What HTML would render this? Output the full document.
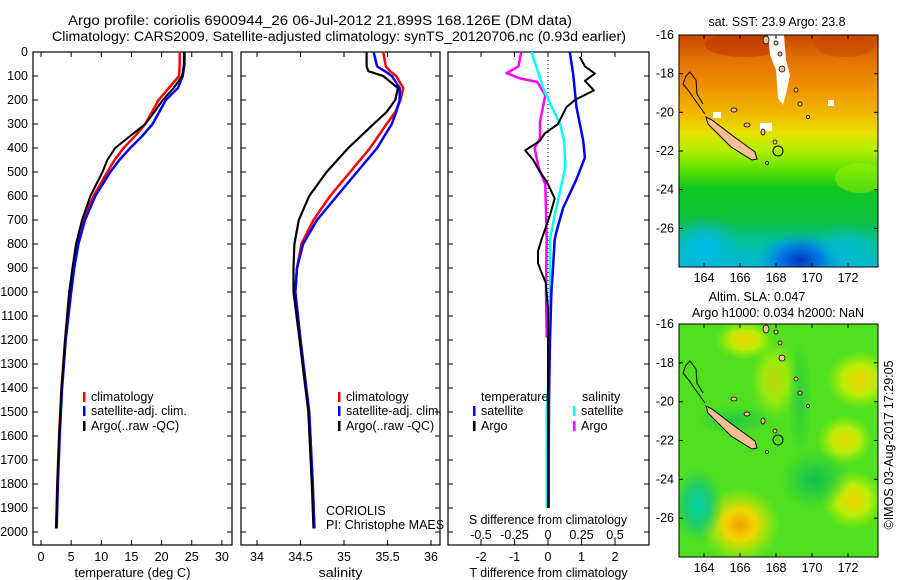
<!DOCTYPE html>
<html><head><meta charset="utf-8"><style>
html,body{margin:0;padding:0;background:#fff;}
svg{display:block;font-family:"Liberation Sans",sans-serif;font-size:12.5px;}
</style></head><body>
<svg id="fig" width="900" height="580" viewBox="0 0 900 580" xmlns="http://www.w3.org/2000/svg">
<defs>
<linearGradient id="sstg" x1="0" y1="0" x2="0" y2="1">
<stop offset="0" stop-color="#c84800"/><stop offset="0.1" stop-color="#e07000"/><stop offset="0.22" stop-color="#f09000"/><stop offset="0.34" stop-color="#f0b800"/><stop offset="0.42" stop-color="#e8e000"/><stop offset="0.5" stop-color="#b0f000"/><stop offset="0.58" stop-color="#60e000"/><stop offset="0.66" stop-color="#10c820"/><stop offset="0.8" stop-color="#10c040"/><stop offset="0.9" stop-color="#00c0a0"/><stop offset="1" stop-color="#00b8d8"/>
</linearGradient>
<radialGradient id="blueblob"><stop offset="0" stop-color="#0030c0"/><stop offset="0.5" stop-color="#0070e8" stop-opacity="0.8"/><stop offset="1" stop-color="#00a0f0" stop-opacity="0"/></radialGradient>
<radialGradient id="cblob"><stop offset="0" stop-color="#00b8f0"/><stop offset="1" stop-color="#00b8f0" stop-opacity="0"/></radialGradient>
<radialGradient id="yblob"><stop offset="0" stop-color="#f0d000"/><stop offset="0.5" stop-color="#d8f000" stop-opacity="0.8"/><stop offset="1" stop-color="#a0f000" stop-opacity="0"/></radialGradient>
<radialGradient id="oblob"><stop offset="0" stop-color="#f0a000"/><stop offset="0.4" stop-color="#f0d800"/><stop offset="1" stop-color="#c0f000" stop-opacity="0"/></radialGradient>
<radialGradient id="tblob"><stop offset="0" stop-color="#00d0b0"/><stop offset="0.5" stop-color="#10c880" stop-opacity="0.8"/><stop offset="1" stop-color="#20c860" stop-opacity="0"/></radialGradient>
<radialGradient id="gblob"><stop offset="0" stop-color="#10c050"/><stop offset="1" stop-color="#10c050" stop-opacity="0"/></radialGradient>
<clipPath id="m1c"><rect x="679" y="35" width="199" height="232"/></clipPath>
<clipPath id="m2c"><rect x="679" y="324" width="199" height="233"/></clipPath>
</defs>
<text x="68" y="25" textLength="504" lengthAdjust="spacingAndGlyphs" font-size="13.5">Argo profile: coriolis 6900944_26 06-Jul-2012 21.899S 168.126E (DM data)</text>
<text x="52" y="41" textLength="574" lengthAdjust="spacingAndGlyphs" font-size="13.5">Climatology: CARS2009. Satellite-adjusted climatology: synTS_20120706.nc (0.93d earlier)</text>
<g id="panels"></g>
<!-- Map 1 SST -->
<g>
<g clip-path="url(#m1c)">
<rect x="679" y="35" width="199" height="232" fill="url(#sstg)"/>
<ellipse cx="800" cy="260" rx="45" ry="28" fill="url(#blueblob)"/>
<ellipse cx="705" cy="245" rx="35" ry="30" fill="url(#cblob)"/>
<ellipse cx="845" cy="245" rx="30" ry="20" fill="url(#cblob)" opacity="0.6"/>
<ellipse cx="745" cy="45" rx="40" ry="12" fill="#b83000" opacity="0.5"/>
<ellipse cx="845" cy="45" rx="30" ry="12" fill="#c04000" opacity="0.4"/>
<ellipse cx="860" cy="178" rx="25" ry="15" fill="#a0f000" opacity="0.5"/>
<path d="M768,35 L784,35 L786,60 L790,75 L787,90 L783,105 L778,98 L776,70 L770,55 Z" fill="#fff"/>
<rect x="713" y="112" width="8" height="6" fill="#fff"/><rect x="760" y="123" width="12" height="8" fill="#fff"/><rect x="828" y="100" width="6" height="6" fill="#fff"/>
<g id="islands1"></g>
</g>
<rect x="679" y="35" width="199" height="232" fill="none" stroke="#000" stroke-width="1"/>
<text x="777" y="26" text-anchor="middle" textLength="137" lengthAdjust="spacingAndGlyphs">sat. SST: 23.9 Argo: 23.8</text>
</g>
<!-- Map 2 SLA -->
<g>
<g clip-path="url(#m2c)">
<rect x="679" y="324" width="199" height="233" fill="#50e020"/>
<ellipse cx="745" cy="340" rx="30" ry="20" fill="url(#yblob)"/>
<ellipse cx="860" cy="380" rx="35" ry="30" fill="url(#yblob)"/>
<ellipse cx="775" cy="380" rx="25" ry="40" fill="url(#yblob)" opacity="0.7"/>
<ellipse cx="845" cy="440" rx="28" ry="25" fill="url(#yblob)"/>
<ellipse cx="853" cy="500" rx="32" ry="30" fill="url(#yblob)"/>
<ellipse cx="740" cy="525" rx="40" ry="38" fill="url(#oblob)"/>
<ellipse cx="698" cy="505" rx="25" ry="38" fill="url(#tblob)"/>
<ellipse cx="815" cy="480" rx="35" ry="30" fill="url(#gblob)"/>
<ellipse cx="735" cy="420" rx="40" ry="15" fill="url(#gblob)" opacity="0.7"/>
<ellipse cx="800" cy="400" rx="12" ry="60" fill="url(#gblob)" opacity="0.6"/>
<g id="islands2"></g>
</g>
<rect x="679" y="324" width="199" height="233" fill="none" stroke="#000" stroke-width="1"/>
<text x="757" y="301" text-anchor="middle">Altim. SLA: 0.047</text>
<text x="778" y="317" text-anchor="middle" textLength="172" lengthAdjust="spacingAndGlyphs">Argo h1000: 0.034 h2000: NaN</text>
</g>
<text transform="translate(893,445) rotate(-90)" text-anchor="middle">©IMOS 03-Aug-2017 17:29:05</text>
<g id="mapaxes"></g>
</svg>
<script>
// ---- data ----
const depthTick = [0,100,200,300,400,500,600,700,800,900,1000,1100,1200,1300,1400,1500,1600,1700,1800,1900,2000];
const tempTick = [0,5,10,15,20,25,30];
const salTick = [34,34.5,35,35.5,36];
const salTickLbl = ["34","34.5","35","35.5","36"];
const tdTick = [-2,-1,0,1,2];
const sdTick = [-0.5,-0.25,0,0.25,0.5];
const sdTickLbl = ["-0.5","-0.25","0","0.25","0.5"];

const tDepth = [0,50,100,150,200,250,300,350,400,450,500,600,700,800,900,1000,1200,1400,1600,1800,1985];
const tClim = [23.0,23.0,22.9,21.2,19.5,18.4,17.3,15.6,13.7,12.2,11.0,8.7,7.0,6.0,5.3,4.7,4.0,3.4,3.0,2.7,2.5];
const tSat = [23.8,23.8,23.5,22.7,20.7,19.6,18.5,16.8,14.8,13.0,11.5,9.0,7.3,6.2,5.5,5.0,4.1,3.5,3.1,2.8,2.6];
const tArgo = [23.7,23.7,23.4,22.0,20.2,18.8,17.3,14.8,12.3,11.0,10.2,8.2,6.8,5.8,5.2,4.7,4.0,3.4,3.0,2.7,2.5];

const sDepth = [0,60,80,100,150,200,250,300,400,500,600,700,800,900,1000,1200,1500,1800,1985];
const sClim = [35.45,35.48,35.53,35.6,35.68,35.65,35.59,35.49,35.3,35.07,34.84,34.65,34.51,34.46,34.44,34.5,34.6,34.64,34.66];
const sSat = [35.34,35.38,35.47,35.55,35.64,35.64,35.6,35.55,35.38,35.15,34.92,34.69,34.53,34.46,34.44,34.5,34.6,34.64,34.66];
const sArgo = [35.26,35.26,35.28,35.45,35.62,35.59,35.49,35.34,35.05,34.8,34.6,34.48,34.43,34.42,34.42,34.49,34.59,34.63,34.65];

const dtSatDepth = [0,90,230,370,440,530,650,740,780,900,1000,1200,1450,1700,1900];
const dtSat = [0.65,0.75,0.85,1.05,1.1,0.85,0.45,0.27,0.2,0.15,0.1,0.06,0.03,0.02,0.02];
const dtArgoDepth = [20,60,90,120,160,200,230,300,340,370,410,450,500,540,610,680,740,780,830,880,920,960,1070,1400,1900];
const dtArgo = [0.95,1.1,1.4,1.1,1.37,0.8,0.55,0.3,-0.1,-0.24,-0.68,-0.44,-0.24,-0.04,0.2,0.06,-0.09,-0.19,-0.3,-0.3,-0.19,-0.07,0,0,0];
const dsArgoDepth = [0,60,88,110,125,180,290,360,400,480,550,780,1000,1190];
const dsArgo = [-0.2,-0.22,-0.31,-0.21,-0.08,-0.02,-0.06,-0.06,-0.1,-0.07,-0.02,-0.01,-0.015,-0.01];
const dsSatDepth = [0,40,90,160,230,300,370,480,580,680,780,1000,1300,1500,1700,1900];
const dsSat = [-0.12,-0.1,-0.07,-0.03,0.03,0.09,0.12,0.13,0.09,0.05,0.015,0.015,0.01,-0.01,-0.01,-0.01];

const latTick = [-16,-18,-20,-22,-24,-26];
const lonTick = [164,166,168,170,172];

// ---- helpers ----
const NS = "http://www.w3.org/2000/svg";
function mk(tag, attrs, parent, txt){ const e=document.createElementNS(NS,tag); for(const k in attrs) e.setAttribute(k,attrs[k]); if(txt!==undefined) e.textContent=txt; parent.appendChild(e); return e; }
const yD = d => 52 + d*0.24;
const PT = 52, PB = 545;
const root = document.getElementById('panels');

function panel(name, x0, x1, xFn, ticks, tlabels, title, tlen){
  const g = mk('g',{},root);
  
  
  mk('rect',{x:x0,y:PT,width:x1-x0,height:PB-PT,fill:'none',stroke:'#000','stroke-width':1.2},g);
  depthTick.forEach(d=>{
    const y=yD(d);
    mk('line',{x1:x0,x2:x0+5,y1:y,y2:y,stroke:'#000'},g);
    mk('line',{x1:x1-5,x2:x1,y1:y,y2:y,stroke:'#000'},g);
  });
  ticks.forEach((t,i)=>{
    const x=xFn(t);
    mk('line',{x1:x,x2:x,y1:PB,y2:PB-5,stroke:'#000'},g);
    mk('line',{x1:x,x2:x,y1:PT,y2:PT+5,stroke:'#000'},g);
    const tl = mk('text',{x:x,y:561,'text-anchor':'middle'},g,tlabels[i]);
    
    
  });
  const at = mk('text',{x:(x0+x1)/2,y:577,'text-anchor':'middle',textLength:tlen,lengthAdjust:'spacingAndGlyphs'},g,title);
  
  
  return g;
}
function line(g, depths, vals, xFn, color, name, w){
  const pts = depths.map((d,i)=>xFn(vals[i]).toFixed(1)+','+yD(d).toFixed(1)).join(' ');
  const p = mk('polyline',{points:pts,fill:'none',stroke:color,'stroke-width':w||2.5,'stroke-linejoin':'round'},g);
  
  
}
function legend(g, x, y, color, label){
  mk('rect',{x:x,y:y-9,width:2.5,height:10,fill:color},g);
  const t = mk('text',{x:x+8,y:y},g,label);
  
  
}

// depth labels
depthTick.forEach(d=>{
  const t = mk('text',{x:28,y:yD(d)+4,'text-anchor':'end'},root,String(d));
  
  
});

// panel 1 temperature
const xT = v => 41 + v*6.03;
const p1 = panel('temperature-panel',33,232,xT,tempTick,tempTick.map(String),'temperature (deg C)',116);
line(p1,tDepth,tClim,xT,'#f00','temp-climatology-line');
line(p1,tDepth,tSat,xT,'#00f','temp-satellite-line');
line(p1,tDepth,tArgo,xT,'#000','temp-argo-line',2);
legend(p1,83,401,'#f00','climatology');
legend(p1,83,415,'#00f','satellite-adj. clim.');
legend(p1,83,430,'#000','Argo(..raw -QC)');

// panel 2 salinity
const xS = v => 257 + (v-34)*87;
const p2 = panel('salinity-panel',241,440,xS,salTick,salTickLbl,'salinity',44);
line(p2,sDepth,sClim,xS,'#f00','sal-climatology-line');
line(p2,sDepth,sSat,xS,'#00f','sal-satellite-line');
line(p2,sDepth,sArgo,xS,'#000','sal-argo-line',2.2);
legend(p2,338,401,'#f00','climatology');
legend(p2,338,415,'#00f','satellite-adj. clim.');
legend(p2,338,430,'#000','Argo(..raw -QC)');
const c1 = mk('text',{x:326,y:515},p2,'CORIOLIS');  
const c2 = mk('text',{x:326,y:529},p2,'PI: Christophe MAES');  

// panel 3 differences
const xDT = v => 548 + v*33.5;
const xDS = v => 548 + v*134;
const p3 = panel('difference-panel',448,649,xDT,tdTick,tdTick.map(String),'T difference from climatology',158);
mk('line',{x1:548,x2:548,y1:PT,y2:yD(1900),stroke:'#000','stroke-dasharray':'1,3'},p3);
sdTick.forEach((t,i)=>{
  const x=xDS(t);
  mk('line',{x1:x,x2:x,y1:PB-6,y2:PB-2,stroke:'#000'},p3);
  const tl = mk('text',{x:x,y:539,'text-anchor':'middle'},p3,sdTickLbl[i]);
  
  
});
const st = mk('text',{x:548,y:524,'text-anchor':'middle',textLength:158,lengthAdjust:'spacingAndGlyphs'},p3,'S difference from climatology');
 
line(p3,dsArgoDepth,dsArgo,xDS,'#f0f','sdiff-argo-line');
line(p3,dsSatDepth,dsSat,xDS,'#0ff','sdiff-satellite-line');
line(p3,dtSatDepth,dtSat,xDT,'#00f','tdiff-satellite-line');
line(p3,dtArgoDepth,dtArgo,xDT,'#000','tdiff-argo-line',2);
const lt = mk('text',{x:481,y:401},p3,'temperature');  
const ls = mk('text',{x:582,y:401},p3,'salinity');  
legend(p3,473,415,'#00f','satellite');
legend(p3,473,430,'#000','Argo');
legend(p3,573,415,'#0ff','satellite');
legend(p3,573,430,'#f0f','Argo');

// map axes
const ma = document.getElementById('mapaxes');
const lonX = lon => 704 + (lon-164)*18;
[[35,267],[324,557]].forEach(([top,bot],mi)=>{
  const sc=(bot-top)/12;
  latTick.forEach(l=>{
    const y = top + (-16-l)*sc;
    mk('line',{x1:679,x2:683,y1:y,y2:y,stroke:'#000'},ma);
    mk('line',{x1:874,x2:878,y1:y,y2:y,stroke:'#000'},ma);
    const t = mk('text',{x:674,y:y+4,'text-anchor':'end'},ma,String(l));
    
    
  });
  lonTick.forEach(l=>{
    const x = lonX(l);
    mk('line',{x1:x,x2:x,y1:bot-4,y2:bot,stroke:'#000'},ma);
    mk('line',{x1:x,x2:x,y1:top,y2:top+4,stroke:'#000'},ma);
    const t = mk('text',{x:x,y:bot+15,'text-anchor':'middle'},ma,String(l));
    
    
  });
});
// islands
function islands(id, dy){
  const g=document.getElementById(id);
  mk('polygon',{points:[[706,117],[712,120],[733,136],[755,152],[757,159],[752,160],[731,147],[708,124]].map(p=>p[0]+','+(p[1]+dy)).join(' '),fill:'#f8c090',stroke:'#000','stroke-width':1},g);
  mk('polyline',{points:[[705,114],[695,100],[688,90],[683,84],[686,76],[690,72],[696,80],[697,94],[703,104]].map(p=>p[0]+','+(p[1]+dy)).join(' '),fill:'none',stroke:'#000','stroke-width':1},g);
  [[766,40,3,4],[776,43,2,2],[780,54,2,2],[782,69,3,3],[796,90,2,2],[800,104,2,2],[808,117,1.5,1.5],[763,132,2,3],[775,142,2,2],[734,110,3,2],[747,125,3,2],[767,163,1.5,1.5]].forEach(([x,y,rx,ry])=>{
    mk('ellipse',{cx:x,cy:y+dy,rx:rx,ry:ry,fill:'#f8c090',stroke:'#000','stroke-width':0.8},g);
  });
  mk('circle',{cx:778,cy:151+dy,r:5,fill:'none',stroke:'#000','stroke-width':1},g);
}
islands('islands1',0);
islands('islands2',289);
</script>
</body></html>
